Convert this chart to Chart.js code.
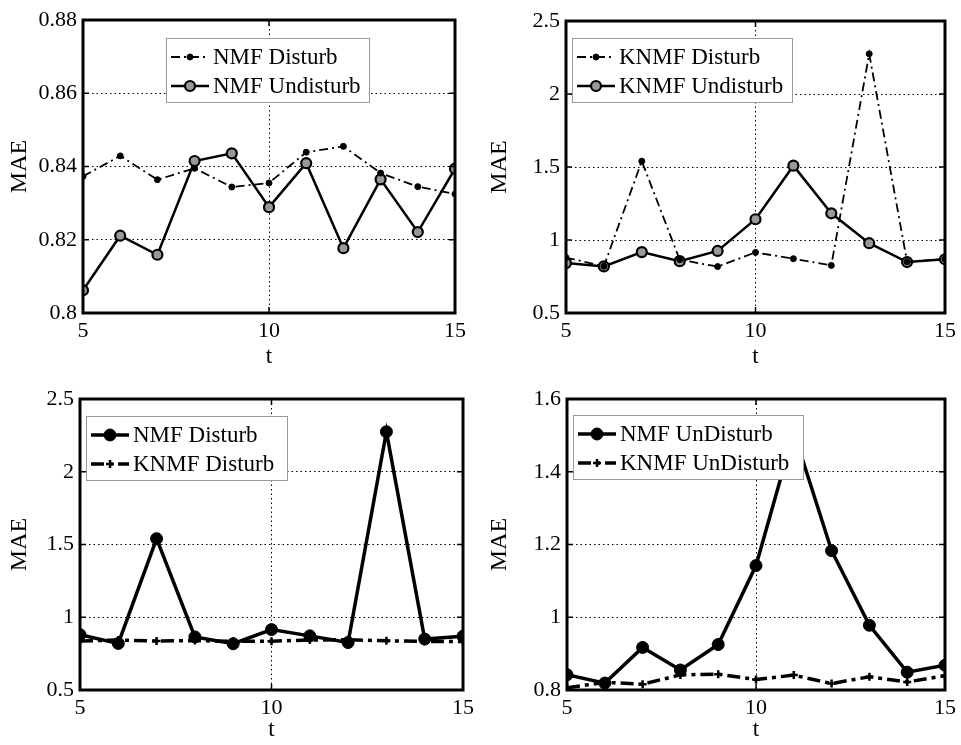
<!DOCTYPE html>
<html lang="en">
<head>
    <meta charset="UTF-8">
    <title>MAE vs t</title>
    <style>
        body {
            margin: 0;
            background: #fff;
        }
        .panel {
            position: absolute;
        }
    </style>
    <script src="https://cdn.jsdelivr.net/npm/chart.js"></script>
</head>
<body>
    <div class="panel" style="left:0;top:0"><canvas id="c1" width="480" height="372"></canvas></div>
    <div class="panel" style="left:480px;top:0"><canvas id="c2" width="481" height="372"></canvas></div>
    <div class="panel" style="left:0;top:372px"><canvas id="c3" width="480" height="373"></canvas></div>
    <div class="panel" style="left:480px;top:372px"><canvas id="c4" width="481" height="373"></canvas></div>

    <script>
        // valores
        const tValues = [5, 6, 7, 8, 9, 10, 11, 12, 13, 14, 15];
        const nmfDisturb = [0.8373, 0.8429, 0.8364, 0.8395, 0.8344, 0.8355, 0.8439, 0.8455, 0.8382, 0.8345, 0.8325];
        const nmfUndisturb = [0.8062, 0.8211, 0.8159, 0.8415, 0.8436, 0.8289, 0.8409, 0.8177, 0.8365, 0.8221, 0.8394];
        const knmfDisturb = [0.880, 0.820, 1.540, 0.865, 0.818, 0.915, 0.872, 0.826, 2.275, 0.850, 0.870];
        const knmfUndisturb = [0.842, 0.819, 0.917, 0.855, 0.925, 1.142, 1.509, 1.183, 0.978, 0.849, 0.868];

        const yTicksA = ['0.8', '0.82', '0.84', '0.86', '0.88'];
        const yTicksB = ['0.5', '1', '1.5', '2', '2.5'];
        const yTicksD = ['0.8', '1', '1.2', '1.4', '1.6'];

        const serif = "'Liberation Serif', 'Times New Roman', serif";
        Chart.defaults.font.family = serif;
        Chart.defaults.color = '#000';

        function toPoints(vals) {
            return tValues.map((t, i) => ({ x: t, y: vals[i] }));
        }

        // marco negro y marcas de escala hacia dentro
        const framePlugin = {
            id: 'frame',
            afterDatasetsDraw(chart) {
                const { ctx, chartArea: a, scales } = chart;
                ctx.save();
                ctx.strokeStyle = '#000';
                ctx.lineWidth = 1.5;
                scales.y.ticks.forEach(tk => {
                    const y = scales.y.getPixelForValue(tk.value);
                    ctx.beginPath();
                    ctx.moveTo(a.left, y); ctx.lineTo(a.left + 6, y);
                    ctx.moveTo(a.right, y); ctx.lineTo(a.right - 6, y);
                    ctx.stroke();
                });
                scales.x.ticks.forEach(tk => {
                    const x = scales.x.getPixelForValue(tk.value);
                    ctx.beginPath();
                    ctx.moveTo(x, a.bottom); ctx.lineTo(x, a.bottom - 6);
                    ctx.moveTo(x, a.top); ctx.lineTo(x, a.top + 6);
                    ctx.stroke();
                });
                ctx.lineWidth = 3;
                ctx.strokeRect(a.left, a.top, a.right - a.left, a.bottom - a.top);
                ctx.restore();
            }
        };

        // leyenda dentro del area del grafico (estilo matlab)
        const boxLegendPlugin = {
            id: 'boxLegend',
            afterDraw(chart, args, opts) {
                const { ctx, chartArea: a } = chart;
                const x0 = a.left + opts.dx, y0 = a.top + opts.dy;
                ctx.save();
                ctx.fillStyle = '#fff';
                ctx.fillRect(x0, y0, opts.w, opts.h);
                ctx.strokeStyle = '#999';
                ctx.lineWidth = 1;
                ctx.strokeRect(x0 + 0.5, y0 + 0.5, opts.w, opts.h);
                chart.data.datasets.forEach((ds, i) => {
                    const cy = y0 + 19 + i * 29;
                    const sx = x0 + 5, ex = x0 + 43;
                    ctx.strokeStyle = '#000';
                    ctx.lineWidth = ds.borderWidth;
                    ctx.setLineDash(ds.borderDash || []);
                    ctx.beginPath();
                    ctx.moveTo(sx, cy); ctx.lineTo(ex, cy);
                    ctx.stroke();
                    ctx.setLineDash([]);
                    ctx.fillStyle = ds.pointBackgroundColor;
                    ctx.strokeStyle = '#000';
                    ctx.lineWidth = ds.pointBorderWidth;
                    Chart.helpers.drawPoint(ctx, {
                        pointStyle: ds.pointStyle, radius: ds.pointRadius, borderWidth: ds.pointBorderWidth, rotation: 0
                    }, (sx + ex) / 2, cy);
                    ctx.fillStyle = '#000';
                    ctx.font = '23px ' + serif;
                    ctx.textBaseline = 'middle';
                    ctx.textAlign = 'left';
                    ctx.fillText(ds.label, ex + 4, cy + 1);
                });
                ctx.restore();
            }
        };

        function serie(label, vals, estilo) {
            const s = {
                label: label,
                data: toPoints(vals),
                borderColor: '#000',
                pointBorderColor: '#000',
                tension: 0,
                fill: false
            };
            if (estilo === 'solidOpen') {
                Object.assign(s, { borderWidth: 2.5, pointStyle: 'circle', pointRadius: 5, pointBorderWidth: 2.2, pointBackgroundColor: '#999' });
            } else if (estilo === 'dashDot') {
                Object.assign(s, { borderWidth: 1.8, borderDash: [9, 4, 2, 4], pointStyle: 'circle', pointRadius: 3, pointBorderWidth: 1, pointBackgroundColor: '#000' });
            } else if (estilo === 'solidBold') {
                Object.assign(s, { borderWidth: 3.5, pointStyle: 'circle', pointRadius: 6, pointBorderWidth: 1, pointBackgroundColor: '#000' });
            } else {
                Object.assign(s, { borderWidth: 3.5, borderDash: [13, 5, 4, 5], pointStyle: 'cross', pointRadius: 4, pointBorderWidth: 2.5, pointBackgroundColor: '#000' });
            }
            return s;
        }

        function dibujarPanel(id, datasets, yMin, yMax, yStep, yLabels, lay, leg) {
            return new Chart(document.getElementById(id), {
                type: 'line',
                data: { datasets: datasets },
                options: {
                    responsive: false,
                    animation: false,
                    layout: { padding: { left: 0, right: lay.right, top: lay.top, bottom: 0 } },
                    plugins: {
                        legend: { display: false },
                        tooltip: { enabled: false },
                        boxLegend: leg
                    },
                    scales: {
                        x: {
                            type: 'linear',
                            min: 5, max: 15,
                            ticks: { stepSize: 5, font: { size: 22 }, padding: 5, maxRotation: 0 },
                            grid: { color: '#000', lineWidth: 1, drawTicks: false },
                            border: { display: false, dash: [1.5, 3] },
                            title: { display: true, text: 't', font: { size: 23 }, padding: { top: 0, bottom: 1 } },
                            afterFit(scale) { scale.height = lay.xh; }
                        },
                        y: {
                            min: yMin, max: yMax,
                            ticks: { stepSize: yStep, font: { size: 22 }, padding: 6, callback: (v, i) => yLabels[i] },
                            grid: { color: '#000', lineWidth: 1, drawTicks: false },
                            border: { display: false, dash: [1.5, 3] },
                            title: { display: true, text: 'MAE', font: { size: 24 }, padding: { top: 5, bottom: 0 } },
                            afterFit(scale) { scale.width = lay.yw; }
                        }
                    }
                },
                plugins: [framePlugin, boxLegendPlugin]
            });
        }

        dibujarPanel('c1',
            [serie('NMF Disturb', nmfDisturb, 'dashDot'), serie('NMF Undisturb', nmfUndisturb, 'solidOpen')],
            0.8, 0.88, 0.02, yTicksA,
            { yw: 83, xh: 59, right: 25, top: 20 },
            { dx: 83, dy: 18, w: 203, h: 64 });

        dibujarPanel('c2',
            [serie('KNMF Disturb', knmfDisturb, 'dashDot'), serie('KNMF Undisturb', knmfUndisturb, 'solidOpen')],
            0.5, 2.5, 0.5, yTicksB,
            { yw: 86, xh: 59, right: 11, top: 21 },
            { dx: 6, dy: 17, w: 220, h: 64 });

        dibujarPanel('c3',
            [serie('NMF Disturb', knmfDisturb, 'solidBold'), serie('KNMF Disturb', nmfDisturb, 'dashBold')],
            0.5, 2.5, 0.5, yTicksB,
            { yw: 80, xh: 55, right: 17, top: 27 },
            { dx: 6, dy: 17, w: 201, h: 64 });

        dibujarPanel('c4',
            [serie('NMF UnDisturb', knmfUndisturb, 'solidBold'), serie('KNMF UnDisturb', nmfUndisturb, 'dashBold')],
            0.8, 1.6, 0.2, yTicksD,
            { yw: 87, xh: 55, right: 9, top: 27 },
            { dx: 6, dy: 16, w: 230, h: 64 });
    </script>
</body>
</html>
